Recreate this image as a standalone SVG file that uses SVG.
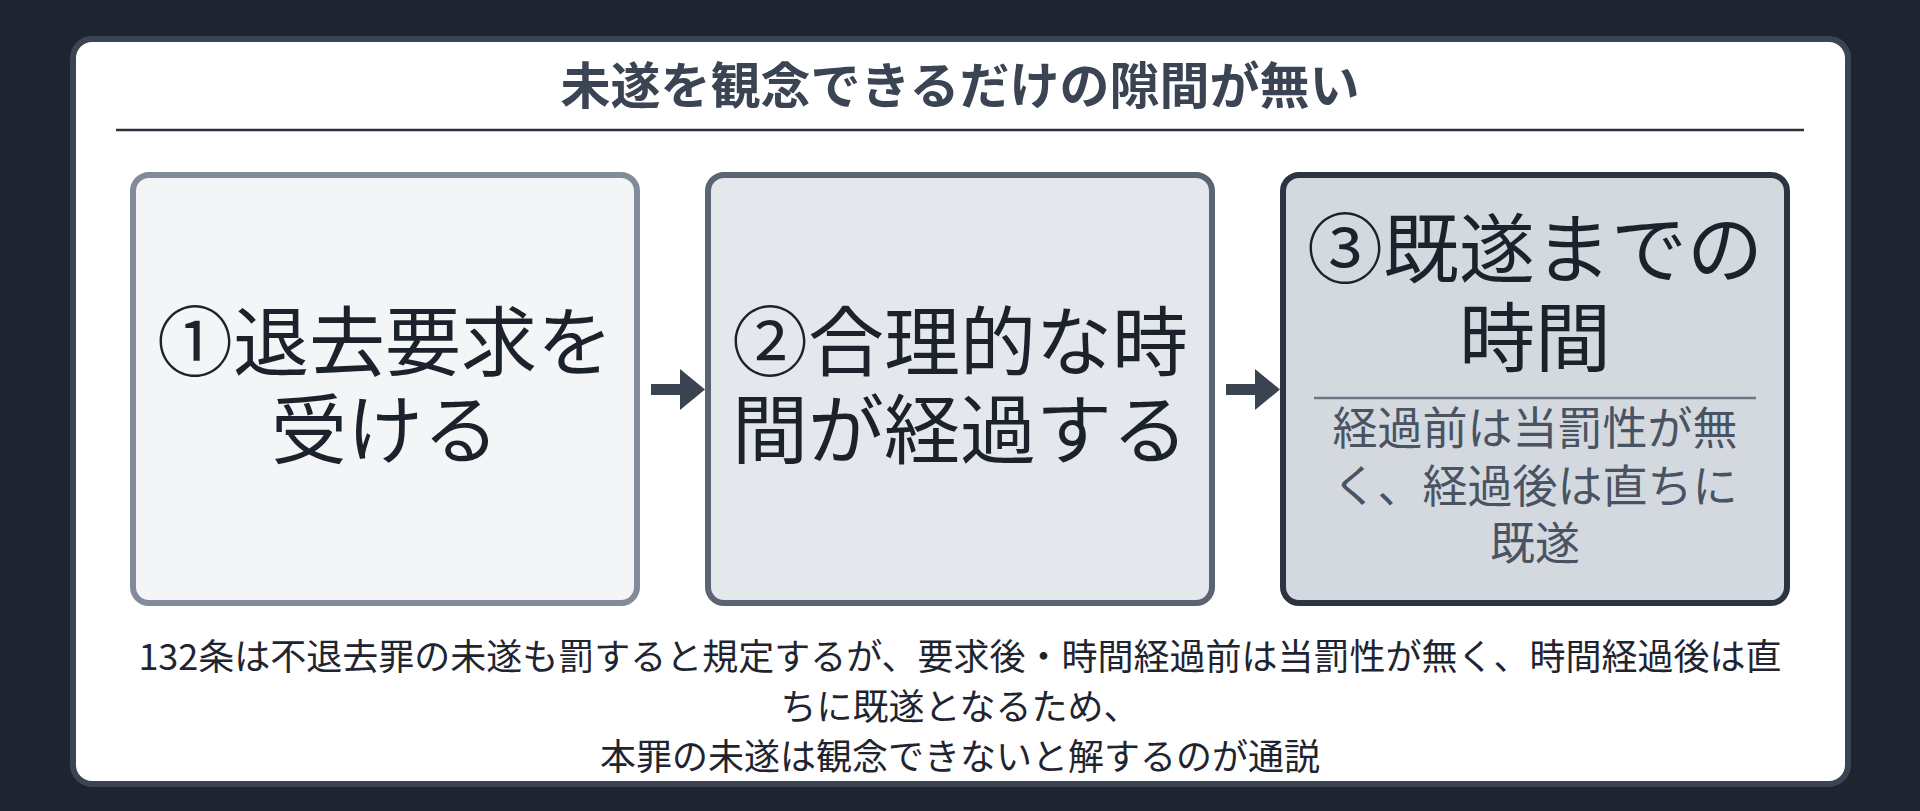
<svg xmlns="http://www.w3.org/2000/svg" width="1920" height="811" viewBox="0 0 1920 811">
  <defs>
    <style>
      .jp { font-family: "Noto Sans CJK JP", "Noto Sans", sans-serif; }
      .title { font-size: 50px; font-weight: 700; fill: #3b4453; }
      .big { font-size: 76px; fill: #1c222b; }
      .sub { font-size: 45px; fill: #4a5362; }
      .note { font-size: 36px; fill: #1f2530; }
      .conn { stroke: #3a4350; stroke-width: 11; fill: none; }
    </style>
    <marker id="head" viewBox="0 0 25 41" refX="0" refY="20.5" markerWidth="25" markerHeight="41" markerUnits="userSpaceOnUse" orient="auto">
      <path d="M0,0 L25,20.5 L0,41 Z" fill="#3a4350"/>
    </marker>
  </defs>
  <rect x="0" y="0" width="1920" height="811" fill="#1e2430"/>
  <g id="card">
    <rect x="73" y="39" width="1775" height="745" rx="19" ry="19" fill="#ffffff" stroke="#3b4453" stroke-width="6"/>
    <text class="jp title" x="960" y="104" text-anchor="middle">未遂を観念できるだけの隙間が無い</text>
    <line x1="116" y1="130" x2="1804" y2="130" stroke="#2b313c" stroke-width="2.5"/>
  </g>
  <g id="node1">
    <rect x="133" y="175" width="504" height="428" rx="16" ry="16" fill="#f4f5f7" stroke="#828b99" stroke-width="6"/>
    <text class="jp big" text-anchor="middle"><tspan x="385" y="370">①退去要求を</tspan><tspan x="385" y="458">受ける</tspan></text>
  </g>
  <g id="node2">
    <rect x="708" y="175" width="504" height="428" rx="16" ry="16" fill="#e4e7eb" stroke="#5b6473" stroke-width="6"/>
    <text class="jp big" text-anchor="middle"><tspan x="960" y="370">②合理的な時</tspan><tspan x="960" y="458">間が経過する</tspan></text>
  </g>
  <g id="node3">
    <rect x="1283" y="175" width="504" height="428" rx="16" ry="16" fill="#d4d9e0" stroke="#2d3441" stroke-width="6"/>
    <text class="jp big" text-anchor="middle"><tspan x="1535" y="277">③既遂までの</tspan><tspan x="1535" y="366">時間</tspan></text>
    <line x1="1314" y1="398" x2="1756" y2="398" stroke="#6d7685" stroke-width="2.5"/>
    <text class="jp sub" text-anchor="middle"><tspan x="1535" y="445">経過前は当罰性が無</tspan><tspan x="1535" y="502.5">く、経過後は直ちに</tspan><tspan x="1535" y="560">既遂</tspan></text>
  </g>
  <g id="connectors">
    <line class="conn" x1="651" y1="389.5" x2="680" y2="389.5" marker-end="url(#head)"/>
    <line class="conn" x1="1226" y1="389.5" x2="1255" y2="389.5" marker-end="url(#head)"/>
  </g>
  <g id="note">
    <text class="jp note" text-anchor="middle"><tspan x="960" y="670">132条は不退去罪の未遂も罰すると規定するが、要求後・時間経過前は当罰性が無く、時間経過後は直</tspan><tspan x="960" y="720">ちに既遂となるため、</tspan><tspan x="960" y="770">本罪の未遂は観念できないと解するのが通説</tspan></text>
  </g>
</svg>
